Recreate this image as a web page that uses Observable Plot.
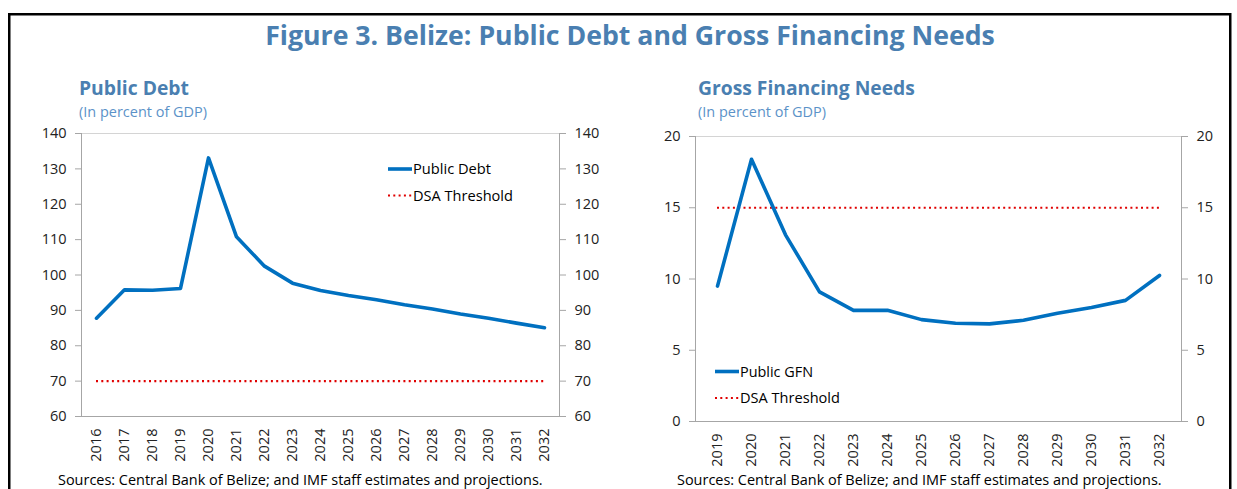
<!DOCTYPE html>
<html><head><meta charset="utf-8">
<script src="https://cdn.jsdelivr.net/npm/d3@7"></script>
<script src="https://cdn.jsdelivr.net/npm/@observablehq/plot@0.6"></script>
<style>
html,body{margin:0;padding:0;background:#fff;}
#page{position:relative;width:1237px;height:489px;overflow:hidden;font-family:"Open Sans",sans-serif;background:#fff;}
#page > svg{position:absolute;}
</style></head><body><div id="page"></div>
<script>
// ---- data ----
const debtYears = [2016,2017,2018,2019,2020,2021,2022,2023,2024,2025,2026,2027,2028,2029,2030,2031,2032];
const debtValues = [87.8,95.8,95.7,96.2,133.1,110.8,102.5,97.7,95.6,94.2,93.0,91.6,90.4,89.0,87.8,86.4,85.1];
const debtThreshold = 70;
const debtTicks = [60,70,80,90,100,110,120,130,140];

const gfnYears = [2019,2020,2021,2022,2023,2024,2025,2026,2027,2028,2029,2030,2031,2032];
const gfnValues = [9.5,18.4,13.1,9.1,7.8,7.8,7.15,6.9,6.85,7.1,7.6,8.0,8.5,10.25];
const gfnThreshold = 15;
const gfnTicks = [0,5,10,15,20];

const titleText = "Figure 3. Belize: Public Debt and Gross Financing Needs";
const sourceText = "Sources: Central Bank of Belize; and IMF staff estimates and projections.";

const FONT = '"Open Sans", sans-serif';
const page = document.getElementById("page");

function panel({years, values, threshold, ticks, left, top, width, height, mL, mR, mT, mB}) {
  const data = years.map((year, i) => ({year, value: values[i]}));
  const chart = Plot.plot({
    width, height, marginLeft: mL, marginRight: mR, marginTop: mT, marginBottom: mB,
    style: {fontFamily: FONT, fontSize: "14.5px", color: "#222", background: "transparent", overflow: "visible"},
    x: {type: "point", domain: years, padding: 0.5, label: null},
    y: {domain: [ticks[0], ticks[ticks.length - 1]], label: null},
    marks: [
      Plot.frame({stroke: "#d4d4d4"}),
      Plot.frame({anchor: "left", stroke: "#a6a6a6"}),
      Plot.frame({anchor: "right", stroke: "#a6a6a6"}),
      Plot.frame({anchor: "bottom", stroke: "#a6a6a6"}),
      Plot.axisY({anchor: "left", ticks, tickSize: 6, tickPadding: 9, stroke: "#a6a6a6", fill: "#222", label: null}),
      Plot.axisY({anchor: "right", ticks, tickSize: 6, tickPadding: 9, stroke: "#a6a6a6", fill: "#222", label: null}),
      Plot.axisX({tickRotate: -90, tickSize: 0, tickPadding: 12, tickFormat: d => String(d), fill: "#222", label: null}),
      Plot.ruleY([threshold], {x1: years[0], x2: years[years.length - 1], stroke: "#e00000", strokeWidth: 2.2, strokeDasharray: "2,3.3"}),
      Plot.line(data, {x: "year", y: "value", stroke: "#0070c0", strokeWidth: 3.6, strokeLinejoin: "round"})
    ]
  });
  chart.style.left = left + "px";
  chart.style.top = top + "px";
  page.appendChild(chart);
}

panel({years: debtYears, values: debtValues, threshold: debtThreshold, ticks: debtTicks,
  left: 0, top: 120, width: 620, height: 369, mL: 81, mR: 61, mT: 13, mB: 73});
panel({years: gfnYears, values: gfnValues, threshold: gfnThreshold, ticks: gfnTicks,
  left: 620, top: 120, width: 617, height: 369, mL: 75, mR: 56, mT: 16, mB: 68});

// ---- overlay: titles, legends, sources, border ----
const ns = "http://www.w3.org/2000/svg";
const ov = document.createElementNS(ns, "svg");
ov.setAttribute("width", 1237); ov.setAttribute("height", 489);
ov.style.left = "0px"; ov.style.top = "0px";
page.appendChild(ov);

function el(tag, attrs, parent = ov) {
  const e = document.createElementNS(ns, tag);
  for (const k in attrs) e.setAttribute(k, attrs[k]);
  parent.appendChild(e);
  return e;
}
function text(str, x, y, {size = 14, weight = 400, fill = "#000", anchor = "start", fit = null, dy = null} = {}) {
  const t = el("text", {x, y, "font-family": FONT, "font-size": size, "font-weight": weight, fill, "text-anchor": anchor});
  if (dy) t.setAttribute("dy", dy);
  t.textContent = str;
  if (fit) {
    const len = t.getComputedTextLength();
    if (len > 0) t.setAttribute("font-size", (size * fit / len).toFixed(2));
  }
  return t;
}

el("rect", {x: 9.25, y: 14.25, width: 1221, height: 520, fill: "none", stroke: "#000", "stroke-width": 2.5});

const titleBlue = "#4a7fb1";
const subBlue = "#5b92c8";
text(titleText, 630, 45, {size: 25, weight: 700, fill: titleBlue, anchor: "middle", fit: 730});
text("Public Debt", 79, 95, {size: 19, weight: 700, fill: titleBlue, fit: 110});
text("(In percent of GDP)", 79, 117, {size: 14, fill: subBlue, fit: 128});
text("Gross Financing Needs", 698, 95, {size: 19, weight: 700, fill: titleBlue, fit: 217});
text("(In percent of GDP)", 698, 117, {size: 14, fill: subBlue, fit: 128});
text(sourceText, 58, 484.5, {size: 13, fill: "#000", fit: 485});
text(sourceText, 677, 484.5, {size: 13, fill: "#000", fit: 485});

function legend(x, y, label1) {
  el("line", {x1: x, x2: x + 24, y1: y, y2: y, stroke: "#0070c0", "stroke-width": 3.6});
  text(label1, x + 25, y, {size: 14, dy: "0.36em", fit: label1 === "Public Debt" ? 78 : 73});
  el("line", {x1: x, x2: x + 24, y1: y + 26.5, y2: y + 26.5, stroke: "#e00000", "stroke-width": 2.2, "stroke-dasharray": "2,3.3"});
  text("DSA Threshold", x + 25, y + 26.5, {size: 14, dy: "0.36em", fit: 100});
}
legend(388, 169, "Public Debt");
legend(715, 371.5, "Public GFN");
</script></body></html>
